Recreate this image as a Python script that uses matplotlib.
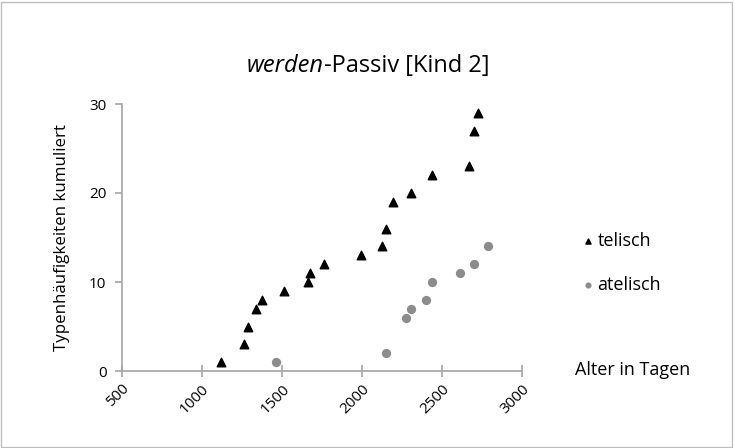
import matplotlib.pyplot as plt
from matplotlib.patches import Rectangle

plt.rcParams['font.family'] = ['Open Sans', 'DejaVu Sans']

telisch_x = [1120, 1261, 1286, 1336, 1376, 1515, 1661, 1675, 1762, 1995,
             2124, 2149, 2193, 2305, 2434, 2665, 2698, 2725]
telisch_y = [1, 3, 5, 7, 8, 9, 10, 11, 12, 13, 14, 16, 19, 20, 22, 23, 27, 29]

atelisch_x = [1461, 2147, 2274, 2305, 2399, 2434, 2611, 2698, 2786]
atelisch_y = [1, 2, 6, 7, 8, 10, 11, 12, 14]

xticks = [500, 1000, 1500, 2000, 2500, 3000]
yticks = [0, 10, 20, 30]

fig = plt.figure(figsize=(7.34, 4.48), dpi=100)
ax = fig.add_axes([121.7 / 734, 1 - 371 / 448, (522.3 - 121.7) / 734, (371 - 104) / 448])

ax.scatter(telisch_x, telisch_y, marker='^', s=38, color='black', label='telisch',
           clip_on=False, zorder=3)
ax.scatter(atelisch_x, atelisch_y, marker='o', s=32, color='#8c8c8c', label='atelisch',
           clip_on=False, zorder=3)

ax.set_xlim(500, 3000)
ax.set_ylim(0, 30)
ax.set_xticks(xticks)
ax.set_yticks(yticks)
ax.set_xticklabels([str(t) for t in xticks], rotation=45, ha='right', va='top',
                   rotation_mode='anchor')

grey = '#a6a6a6'
for s in ['top', 'right']:
    ax.spines[s].set_visible(False)
for s in ['left', 'bottom']:
    ax.spines[s].set_color(grey)
    ax.spines[s].set_linewidth(1.2)
ax.tick_params(axis='x', direction='inout', length=9, width=1.2, color=grey,
               labelsize=11, pad=3)
ax.tick_params(axis='y', direction='out', length=5, width=1.2, color=grey,
               labelsize=11, pad=6)

ax.set_ylabel('Typenhäufigkeiten kumuliert', fontsize=12.2, labelpad=14)
fig.text(575 / 734, 1 - 370 / 448, 'Alter in Tagen', fontsize=13, va='center', ha='left')

ty = 1 - 66 / 448
title = fig.text(247 / 734, ty, 'werden', fontsize=17, style='italic',
                 ha='left', va='center')
fig.canvas.draw()
bb = title.get_window_extent()
fig.text(bb.x1 / fig.bbox.width, ty, '-Passiv [Kind 2]', fontsize=17,
         ha='left', va='center')

ax.legend(loc='center left', bbox_to_anchor=(565 / 734, 1 - 263 / 448),
          bbox_transform=fig.transFigure, frameon=False, fontsize=13,
          markerscale=0.6, handletextpad=0.1, labelspacing=1.45, handlelength=0.8)

fig.patches.append(Rectangle((0.002, 0.003), 0.995, 0.993, transform=fig.transFigure,
                             fill=False, edgecolor='#bfbfbf', linewidth=1))

fig.savefig('out.png', dpi=100)
